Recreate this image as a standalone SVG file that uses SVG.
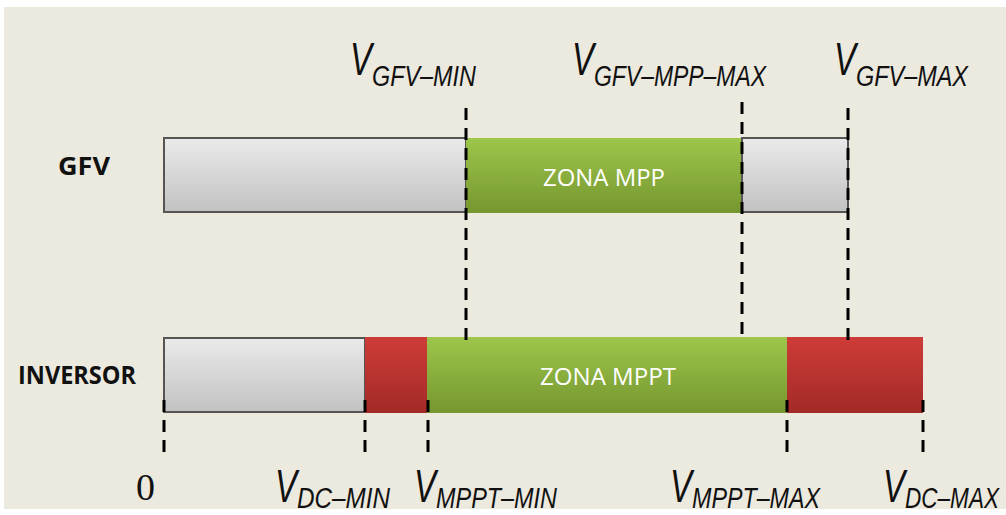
<svg xmlns="http://www.w3.org/2000/svg" width="1006" height="515" viewBox="0 0 1006 515">
<defs>
<linearGradient id="gGray" x1="0" y1="0" x2="0" y2="1"><stop offset="0" stop-color="#EAEAEA"/><stop offset="1" stop-color="#C2C2C2"/></linearGradient>
<linearGradient id="gGreen" x1="0" y1="0" x2="0" y2="1"><stop offset="0" stop-color="#9DC64B"/><stop offset="1" stop-color="#76962F"/></linearGradient>
<linearGradient id="gRed" x1="0" y1="0" x2="0" y2="1"><stop offset="0" stop-color="#CE3C38"/><stop offset="1" stop-color="#A32A27"/></linearGradient>
<style>
.gray{fill:url(#gGray);stroke:#555;stroke-width:2}
.green{fill:url(#gGreen)}
.red{fill:url(#gRed)}
.dash{stroke:#000;stroke-width:3;stroke-dasharray:12 8;fill:none}
.row{font-family:"Open Sans","Liberation Sans",sans-serif;font-weight:bold;font-size:25px;fill:#111}
.zone{font-family:"Open Sans","Liberation Sans",sans-serif;font-size:23px;fill:#fff}
.v{font-family:"Liberation Sans",Arial,sans-serif;font-style:italic;fill:#111}
.big{font-size:46px}
.sub{font-size:29px}
.zero{font-family:"Liberation Serif","Times New Roman",serif;font-size:38px;fill:#111}
</style>
</defs>
<rect x="0" y="0" width="1006" height="515" fill="#fff"/>
<rect x="4" y="7" width="1002" height="502" fill="#ECE9DF"/>

<g id="gfv-bar">
<rect class="gray" x="164" y="138" width="302" height="74"/>
<rect class="green" x="466" y="138" width="276" height="75"/>
<rect class="gray" x="742" y="138" width="106" height="74"/>
<text class="zone" x="543" y="186" textLength="122" lengthAdjust="spacingAndGlyphs">ZONA MPP</text>
</g>
<g id="inversor-bar">
<rect class="gray" x="164" y="338" width="201" height="74"/>
<rect class="red" x="365" y="337" width="62" height="76"/>
<rect class="green" x="427" y="337" width="360" height="76"/>
<rect class="red" x="787" y="337" width="136" height="76"/>
<text class="zone" x="540" y="385" textLength="136" lengthAdjust="spacingAndGlyphs">ZONA MPPT</text>
</g>

<g id="row-labels">
<text class="row" x="58" y="175" textLength="52" lengthAdjust="spacingAndGlyphs">GFV</text>
<text class="row" x="18" y="384" textLength="118" lengthAdjust="spacingAndGlyphs">INVERSOR</text>
</g>

<g id="connectors">
<line class="dash" x1="466" y1="108" x2="466" y2="340"/>
<line class="dash" x1="742" y1="102" x2="742" y2="340"/>
<line class="dash" x1="848" y1="108" x2="848" y2="340"/>
<line class="dash" x1="164" y1="400" x2="164" y2="455"/>
<line class="dash" x1="365" y1="400" x2="365" y2="455"/>
<line class="dash" x1="428" y1="400" x2="428" y2="455"/>
<line class="dash" x1="787" y1="400" x2="787" y2="455"/>
<line class="dash" x1="923" y1="400" x2="923" y2="455"/>
</g>

<g id="top-labels">
<text class="v" x="350" y="75"><tspan class="big" textLength="22" lengthAdjust="spacingAndGlyphs">V</tspan><tspan class="sub" x="372" y="86" textLength="104" lengthAdjust="spacingAndGlyphs">GFV–MIN</tspan></text>
<text class="v" x="572" y="75"><tspan class="big" textLength="22" lengthAdjust="spacingAndGlyphs">V</tspan><tspan class="sub" x="594" y="86" textLength="172" lengthAdjust="spacingAndGlyphs">GFV–MPP–MAX</tspan></text>
<text class="v" x="834" y="75"><tspan class="big" textLength="22" lengthAdjust="spacingAndGlyphs">V</tspan><tspan class="sub" x="856" y="86" textLength="112" lengthAdjust="spacingAndGlyphs">GFV–MAX</tspan></text>
</g>

<g id="bottom-labels">
<text class="zero" x="136" y="500">0</text>
<text class="v" x="275" y="502"><tspan class="big" textLength="22" lengthAdjust="spacingAndGlyphs">V</tspan><tspan class="sub" x="297" y="508" textLength="93" lengthAdjust="spacingAndGlyphs">DC–MIN</tspan></text>
<text class="v" x="414" y="502"><tspan class="big" textLength="22" lengthAdjust="spacingAndGlyphs">V</tspan><tspan class="sub" x="436" y="508" textLength="121" lengthAdjust="spacingAndGlyphs">MPPT–MIN</tspan></text>
<text class="v" x="670" y="502"><tspan class="big" textLength="22" lengthAdjust="spacingAndGlyphs">V</tspan><tspan class="sub" x="692" y="508" textLength="128" lengthAdjust="spacingAndGlyphs">MPPT–MAX</tspan></text>
<text class="v" x="883" y="502"><tspan class="big" textLength="22" lengthAdjust="spacingAndGlyphs">V</tspan><tspan class="sub" x="905" y="508" textLength="94" lengthAdjust="spacingAndGlyphs">DC–MAX</tspan></text>
</g>
</svg>
